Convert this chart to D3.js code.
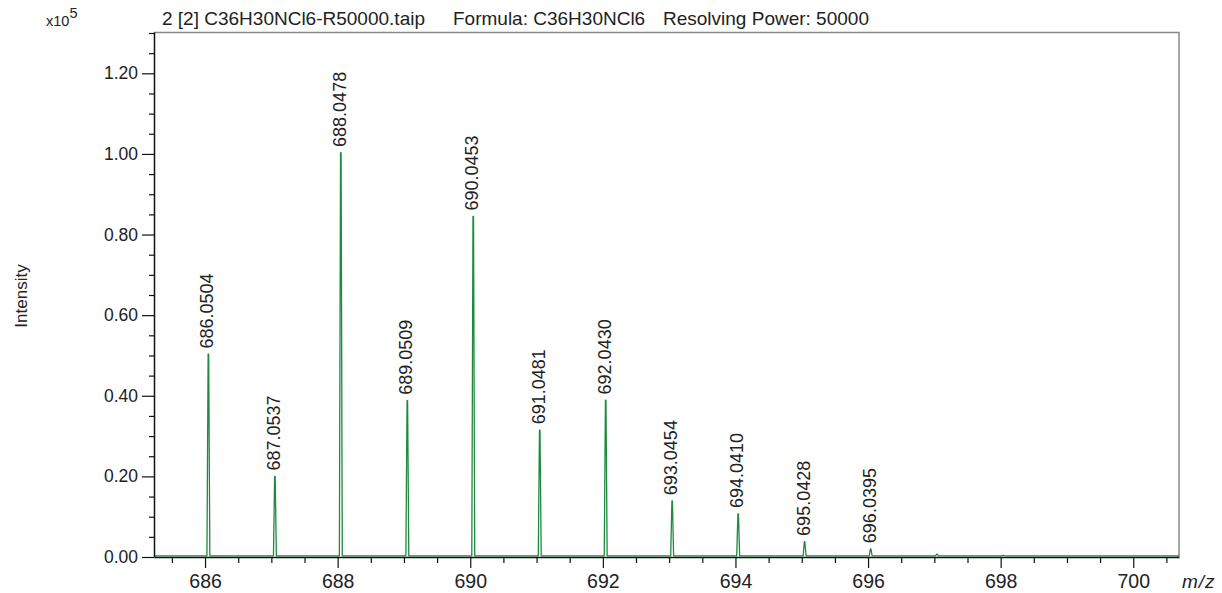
<!DOCTYPE html>
<html>
<head>
<meta charset="utf-8">
<script src="https://cdn.jsdelivr.net/npm/d3@7"></script>
<style>
body { margin: 0; background: #fff; }
svg text { font-family: "Liberation Sans", Arial, sans-serif; fill: #222; }
</style>
</head>
<body>
<svg width="1222" height="593"></svg>
<script>
// peak centroids (m/z) and intensities (x10^5)
var peakMz = [686.0504, 687.0537, 688.0478, 689.0509, 690.0453, 691.0481, 692.0430, 693.0454, 694.0410, 695.0428, 696.0395, 697.04, 698.04];
var peakInt = [0.500, 0.197, 1.000, 0.385, 0.842, 0.312, 0.386, 0.136, 0.104, 0.035, 0.017, 0.004, 0.001];
var labelled = [true, true, true, true, true, true, true, true, true, true, true, false, false];
var xTicks = [686, 688, 690, 692, 694, 696, 698, 700];
var yTicks = [0, 0.2, 0.4, 0.6, 0.8, 1.0, 1.2];
var titleParts = ['2 [2] C36H30NCl6-R50000.taip', 'Formula: C36H30NCl6', 'Resolving Power: 50000'];
var titleX = [162, 453, 663];

var svg = d3.select('svg'),
margin = {top: 32, right: 43, bottom: 36, left: 154},
width = 1222 - margin.left - margin.right,
height = 593 - margin.top - margin.bottom,
g = svg.append('g').attr('transform', 'translate(' + margin.left + ',' + margin.top + ')');

var x = d3.scaleLinear().domain([685.23, 700.69]).range([0, width]),
y = d3.scaleLinear().domain([0, 1.3025]).range([height, 0]);

// frame: top + right in grey
g.append('path')
.attr('d', 'M0,0.5H' + width + 'V' + height)
.attr('fill', 'none')
.attr('stroke', '#8a8a8a')
.attr('stroke-width', 1.5);

// spectrum trace: baseline with narrow peaks (drawn under the axes)
var pts = [[x.domain()[0], 0]];
peakMz.forEach(function(m, i) {
pts.push([m - 0.022, 0], [m - 0.004, peakInt[i]], [m + 0.004, peakInt[i]], [m + 0.022, 0]);
});
pts.push([x.domain()[1], 0]);

g.append('path')
.attr('fill', 'none')
.attr('stroke', '#1e8a3e')
.attr('stroke-width', 1.3)
.attr('stroke-linejoin', 'round')
.attr('d', d3.line()
  .x(function(d) { return x(d[0]); })
  .y(function(d) { return y(d[1]) - 1.2; })(pts));

// minor ticks
var xMinor = d3.range(685.5, 700.7, 0.5).filter(function(v) { return xTicks.indexOf(v) < 0; });
var yMinor = d3.range(0.05, 1.31, 0.05).filter(function(v) { return !yTicks.some(function(t) { return Math.abs(t - v) < 1e-6; }); });

g.append('g')
.attr('transform', 'translate(0,' + height + ')')
.call(d3.axisBottom(x).tickValues(xMinor).tickSize(6).tickFormat(''))
.call(function(s) { s.select('.domain').remove(); });

g.append('g')
.call(d3.axisLeft(y).tickValues(yMinor).tickSize(5).tickFormat(''))
.call(function(s) { s.select('.domain').remove(); });

var xAxis = g.append('g')
.attr('class', 'axis axis--x')
.attr('transform', 'translate(0,' + height + ')')
.call(d3.axisBottom(x).tickValues(xTicks).tickSize(11).tickSizeOuter(0).tickFormat(d3.format('d')));
xAxis.selectAll('text').attr('font-size', 19.5).attr('dy', 0).attr('y', 31);

var yAxis = g.append('g')
.attr('class', 'axis axis--y')
.call(d3.axisLeft(y).tickValues(yTicks).tickSize(12).tickSizeOuter(0).tickFormat(d3.format('.2f')));
yAxis.selectAll('text').attr('font-size', 17.5).attr('x', -16);

svg.selectAll('.domain').attr('stroke', '#111').attr('stroke-width', 1.5);
svg.selectAll('.tick line').attr('stroke', '#111').attr('stroke-width', 1.2);

// peak labels
g.selectAll('.plabel')
.data(peakMz.filter(function(m, i) { return labelled[i]; }))
.enter()
.append('text')
.attr('class', 'plabel')
.attr('font-size', 18)
.attr('transform', function(d) {
var i = peakMz.indexOf(d);
return 'translate(' + (x(d) + 5) + ',' + (y(peakInt[i]) - 7) + ') rotate(-90)';
})
.text(function(d) { return d.toFixed(4); });

// titles
svg.selectAll('.title')
.data(titleParts)
.enter()
.append('text')
.attr('class', 'title')
.attr('x', function(d, i) { return titleX[i]; })
.attr('y', 25)
.attr('font-size', 19)
.text(function(d) { return d; });

var exp = svg.append('text').attr('x', 46).attr('y', 26).attr('font-size', 14.5);
exp.append('tspan').text('x10');
exp.append('tspan').attr('dy', -8).attr('font-size', 14.5).text('5');

svg.append('text')
.attr('transform', 'translate(27,' + 296 + ') rotate(-90)')
.attr('text-anchor', 'middle')
.attr('font-family', '"DejaVu Sans", sans-serif')
.attr('font-size', 17)
.text('Intensity');

svg.append('text')
.attr('x', 1182).attr('y', 588)
.attr('font-family', '"DejaVu Sans", sans-serif')
.attr('font-size', 19)
.attr('letter-spacing', 1)
.attr('font-style', 'italic')
.text('m/z');
</script>
</body>
</html>
